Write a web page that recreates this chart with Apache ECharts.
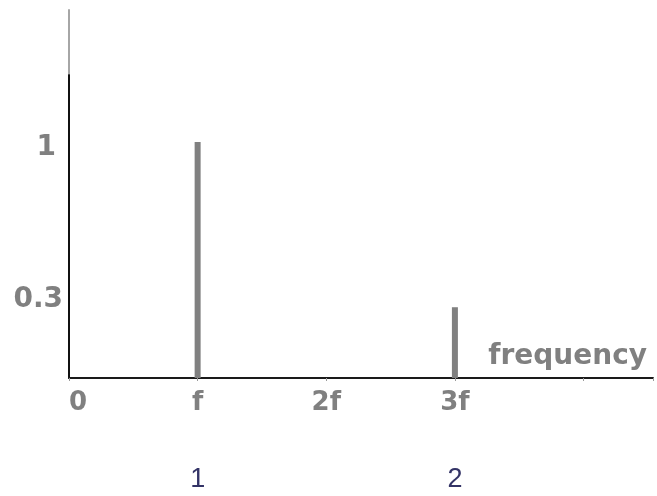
<!DOCTYPE html>
<html>
<head>
<meta charset="utf-8">
<script src="https://cdn.jsdelivr.net/npm/echarts@6/dist/echarts.min.js"></script>
<style>
  html, body { margin: 0; padding: 0; background: #ffffff; }
  #chart { width: 657px; height: 496px; }
</style>
</head>
<body>
<div id="chart"></div>
<script>
// Harmonic spectrum: amplitude of each harmonic of a fundamental f
const harmonicPositions = [1, 3];          // in multiples of f
const harmonicAmplitudes = [1, 0.3];
const freqTickLabels = ['0', 'f', '2f', '3f'];
const amplitudeTickLabels = { '1': '1', '0.3': '0.3' };
const harmonicNumbers = ['1', '2'];

const GRAY = '#808080';
const NAVY = '#333366';

const chart = echarts.init(document.getElementById('chart'), null, { renderer: 'canvas' });

const freqMax = 4.54;
const ampMax = 1.56;

const labelFont = { color: GRAY, fontFamily: 'DejaVu Sans', fontWeight: 'bold' };

chart.setOption({
  animation: false,
  backgroundColor: '#ffffff',
  grid: { left: 69, right: 4, top: 10, bottom: 118, containLabel: false },
  xAxis: [
    {
      type: 'value',
      min: 0,
      max: freqMax,
      interval: 1,
      name: 'frequency',
      nameLocation: 'end',
      nameGap: -6,
      nameTextStyle: Object.assign({}, labelFont, {
        fontSize: 28,
        align: 'right',
        verticalAlign: 'bottom',
        lineHeight: 30,
        padding: [0, 0, 6, 0]
      }),
      axisLine: { show: true, lineStyle: { color: '#1a1a1a', width: 2 } },
      axisTick: { show: true, length: 3, lineStyle: { color: '#999', width: 1 } },
      splitLine: { show: false },
      axisLabel: Object.assign({}, labelFont, {
        fontSize: 26,
        margin: 12,
        alignMinLabel: 'left',
        formatter: (v, i) => (freqTickLabels[i] !== undefined ? freqTickLabels[i] : '')
      })
    },
    {
      type: 'value',
      position: 'bottom',
      offset: 88,
      min: 0,
      max: freqMax,
      interval: 1,
      axisLine: { show: false },
      axisTick: { show: false },
      splitLine: { show: false },
      axisLabel: {
        color: NAVY,
        fontFamily: 'Liberation Sans',
        fontSize: 27,
        margin: 0,
        formatter: (v) => {
          const k = harmonicPositions.indexOf(Math.round(v));
          return k >= 0 ? harmonicNumbers[k] : '';
        }
      }
    }
  ],
  yAxis: {
    type: 'value',
    min: 0,
    max: ampMax,
    interval: 0.1,
    axisLine: {
      show: true,
      lineStyle: {
        width: 2,
        color: new echarts.graphic.LinearGradient(0, 0, 0, 1, [
          { offset: 0, color: '#a6a6a6' },
          { offset: 0.179, color: '#a6a6a6' },
          { offset: 0.18, color: '#111111' },
          { offset: 1, color: '#111111' }
        ])
      }
    },
    axisTick: { show: false },
    splitLine: { show: false },
    axisLabel: Object.assign({}, labelFont, {
      fontSize: 28,
      margin: 6,
      formatter: (v) => {
        const key = String(Math.round(v * 10) / 10);
        const text = amplitudeTickLabels[key];
        if (!text) return '';
        return key === '1' ? '{lo|' + text + '}' : '{hi|' + text + '}';
      },
      rich: {
        lo: Object.assign({}, labelFont, { fontSize: 28, padding: [12, 7, 0, 0] }),
        hi: Object.assign({}, labelFont, { fontSize: 28, padding: [0, 0, 16, 0] })
      }
    })
  },
  series: [
    {
      type: 'bar',
      xAxisIndex: 0,
      barWidth: 6,
      itemStyle: { color: GRAY },
      data: harmonicPositions.map((x, i) => [x, harmonicAmplitudes[i]])
    }
  ]
});
</script>
</body>
</html>
